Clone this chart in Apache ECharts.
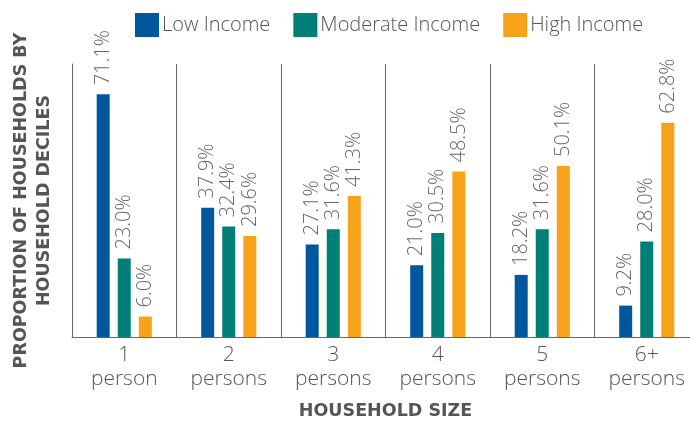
<!DOCTYPE html>
<html><head><meta charset="utf-8">
<script src="https://cdn.jsdelivr.net/npm/echarts@6/dist/echarts.min.js"></script>
<style>html,body{margin:0;padding:0;background:#fff}#c{width:690px;height:424px}</style>
</head><body><div id="c"></div>
<script>
const categories = ['1\nperson', '2\npersons', '3\npersons', '4\npersons', '5\npersons', '6+\npersons'];
const lowIncome = [71.1, 37.9, 27.1, 21.0, 18.2, 9.2];
const moderateIncome = [23.0, 32.4, 31.6, 30.5, 31.6, 28.0];
const highIncome = [6.0, 29.6, 41.3, 48.5, 50.1, 62.8];
const seriesNames = ['Low Income', 'Moderate Income', 'High Income'];
const colors = ['#00579C', '#007F76', '#F6A31B'];

const chart = echarts.init(document.getElementById('c'));
const labelCfg = {
  show: true, position: 'top', rotate: 90, align: 'left', verticalAlign: 'middle',
  distance: 9, color: '#666', fontSize: 20, fontFamily: 'Open Sans', fontWeight: 300,
  formatter: p => p.value.toFixed(1) + '%'
};
chart.setOption({
  animation: false,
  textStyle: { fontFamily: 'Open Sans' },
  legend: {
    top: 8, left: 130, itemWidth: 24, itemHeight: 24, itemGap: 23,
    icon: 'rect',
    textStyle: { fontSize: 20, color: '#555', fontWeight: 300, padding: [0, 0, 0, -2] },
    data: seriesNames
  },
  grid: { left: 72, right: -9, top: 64, bottom: 87, outerBoundsMode: 'none', containLabel: false },
  xAxis: {
    type: 'category', data: categories,
    axisLine: { lineStyle: { color: '#666', width: 1 } },
    axisTick: { show: false },
    splitLine: { show: true, lineStyle: { color: '#666', width: 1 } },
    axisLabel: { color: '#555', fontSize: 21, lineHeight: 24, margin: 6, fontWeight: 300, interval: 0 },
    name: 'HOUSEHOLD SIZE', nameLocation: 'middle', nameGap: 65,
    nameTextStyle: { color: '#555', fontSize: 17.5, fontWeight: 'bold', fontFamily: 'DejaVu Sans' }
  },
  yAxis: {
    type: 'value', min: 0, max: 80,
    axisLine: { show: true, lineStyle: { color: '#666', width: 1 } },
    axisTick: { show: false }, axisLabel: { show: false }, splitLine: { show: false },
    name: 'PROPORTION OF HOUSEHOLDS BY\nHOUSEHOLD DECILES', nameLocation: 'middle', nameGap: 16,
    nameTextStyle: { color: '#555', fontSize: 17.5, fontWeight: 'bold', lineHeight: 23, fontFamily: 'DejaVu Sans' }
  },
  series: [
    { name: seriesNames[0], type: 'bar', data: lowIncome, barWidth: 13, barGap: '62%', itemStyle: { color: colors[0] }, label: labelCfg },
    { name: seriesNames[1], type: 'bar', data: moderateIncome, barWidth: 13, barGap: '62%', itemStyle: { color: colors[1] }, label: labelCfg },
    { name: seriesNames[2], type: 'bar', data: highIncome, barWidth: 13, barGap: '62%', itemStyle: { color: colors[2] }, label: labelCfg }
  ]
});
</script></body></html>
